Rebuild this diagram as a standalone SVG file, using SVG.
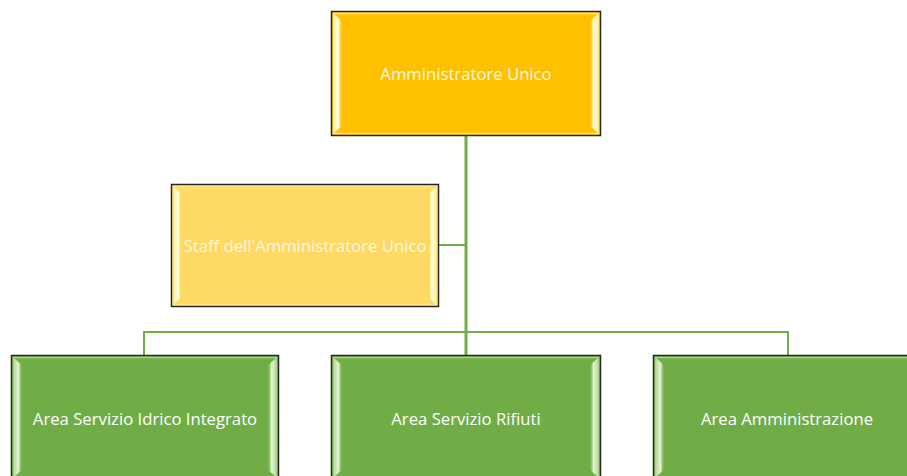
<svg xmlns="http://www.w3.org/2000/svg" width="907" height="476" viewBox="0 0 907 476">
<defs>
<linearGradient id="lY" x1="0" x2="1" y1="0" y2="0"><stop offset="0" stop-color="#FFF3A0"/><stop offset="0.5" stop-color="#FFFDE0"/><stop offset="1" stop-color="#FFC000" stop-opacity="0"/></linearGradient>
<linearGradient id="rY" x1="1" x2="0" y1="0" y2="0"><stop offset="0" stop-color="#FFF3A0"/><stop offset="0.5" stop-color="#FFFDE0"/><stop offset="1" stop-color="#FFC000" stop-opacity="0"/></linearGradient>
<linearGradient id="lG" x1="0" x2="1" y1="0" y2="0"><stop offset="0" stop-color="#B7DC9A"/><stop offset="0.5" stop-color="#E2F3D4"/><stop offset="1" stop-color="#70AD47" stop-opacity="0"/></linearGradient>
<linearGradient id="rG" x1="1" x2="0" y1="0" y2="0"><stop offset="0" stop-color="#B7DC9A"/><stop offset="0.5" stop-color="#E2F3D4"/><stop offset="1" stop-color="#70AD47" stop-opacity="0"/></linearGradient>
</defs>
<style>
.box{stroke:#262626;stroke-width:1.5}
.in{fill:none;stroke-width:1.5}
.y .in{stroke:#FFE680}
.g .in{stroke:#A8D08D}
.t{font-family:"Open Sans","Liberation Sans",sans-serif;font-size:16.7px;fill:#FFFFFF;text-anchor:middle;dominant-baseline:central}
.y .t{fill:#FFF8E0}
.c{fill:none;stroke:#70AD47}
</style>
<rect width="907" height="476" fill="#FFFFFF"/>
<g id="connectors">
<line class="c" x1="466" y1="135" x2="466" y2="356" stroke-width="3"/>
<line class="c" x1="439" y1="245" x2="466" y2="245" stroke-width="2"/>
<polyline class="c" points="144,356 144,332 788,332 788,356" stroke-width="2"/>
<line class="c" x1="466" y1="332" x2="466" y2="356" stroke-width="2"/>
</g>
<g id="n1" class="y">
<rect class="box" x="331.5" y="11.5" width="269" height="124" fill="#FFC000"/>
<rect class="in" x="333.5" y="13.5" width="265" height="120"/>
<polygon points="334,14 343,22 343,125 334,133" fill="url(#lY)"/>
<polygon points="598,14 589,22 589,125 598,133" fill="url(#rY)"/>
<text class="t" x="466" y="73">Amministratore Unico</text>
</g>
<g id="n2" class="y">
<rect class="box" x="171.5" y="184.5" width="267" height="122" fill="#FFD966"/>
<rect class="in" x="173.5" y="186.5" width="263" height="118"/>
<polygon points="174,187 183,195 183,296 174,304" fill="url(#lY)"/>
<polygon points="436,187 427,195 427,296 436,304" fill="url(#rY)"/>
<text class="t" x="305" y="245">Staff dell'Amministratore Unico</text>
</g>
<g id="n3" class="g">
<rect class="box" x="11.5" y="355.5" width="267" height="124" fill="#70AD47"/>
<rect class="in" x="13.5" y="357.5" width="263" height="120"/>
<polygon points="14,358 23,366 23,469 14,477" fill="url(#lG)"/>
<polygon points="276,358 267,366 267,469 276,477" fill="url(#rG)"/>
<text class="t" x="145" y="418">Area Servizio Idrico Integrato</text>
</g>
<g id="n4" class="g">
<rect class="box" x="331.5" y="355.5" width="269" height="124" fill="#70AD47"/>
<rect class="in" x="333.5" y="357.5" width="265" height="120"/>
<polygon points="334,358 343,366 343,469 334,477" fill="url(#lG)"/>
<polygon points="598,358 589,366 589,469 598,477" fill="url(#rG)"/>
<text class="t" x="466" y="418">Area Servizio Rifiuti</text>
</g>
<g id="n5" class="g">
<rect class="box" x="653.5" y="355.5" width="268" height="124" fill="#70AD47"/>
<rect class="in" x="655.5" y="357.5" width="264" height="120"/>
<polygon points="656,358 665,366 665,469 656,477" fill="url(#lG)"/>
<text class="t" x="787" y="418">Area Amministrazione</text>
</g>
</svg>
